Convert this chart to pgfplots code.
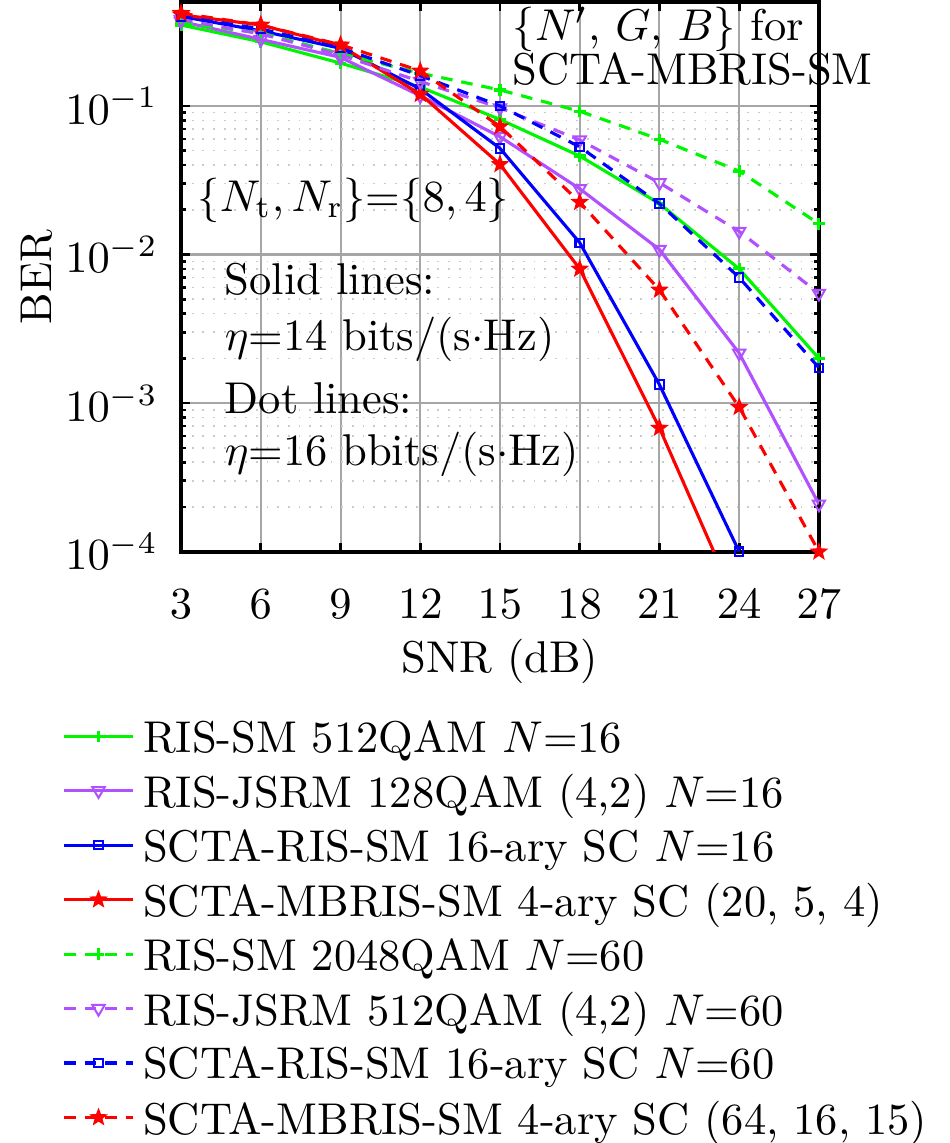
\documentclass[border=0pt]{standalone}
\usepackage{pgfplots}
\pgfplotsset{compat=1.18}
\definecolor{cgreen}{RGB}{0,245,0}
\definecolor{cpurple}{RGB}{176,80,255}
\definecolor{cblue}{RGB}{0,0,255}
\definecolor{cred}{RGB}{255,0,0}
\pgfdeclareplotmark{fstar}{%
  \pgfpathmoveto{\pgfpointpolar{90}{1\pgfplotmarksize}}%
  \pgfpathlineto{\pgfpointpolar{126}{0.42\pgfplotmarksize}}%
  \pgfpathlineto{\pgfpointpolar{162}{1\pgfplotmarksize}}%
  \pgfpathlineto{\pgfpointpolar{198}{0.42\pgfplotmarksize}}%
  \pgfpathlineto{\pgfpointpolar{234}{1\pgfplotmarksize}}%
  \pgfpathlineto{\pgfpointpolar{270}{0.42\pgfplotmarksize}}%
  \pgfpathlineto{\pgfpointpolar{306}{1\pgfplotmarksize}}%
  \pgfpathlineto{\pgfpointpolar{342}{0.42\pgfplotmarksize}}%
  \pgfpathlineto{\pgfpointpolar{18}{1\pgfplotmarksize}}%
  \pgfpathlineto{\pgfpointpolar{54}{0.42\pgfplotmarksize}}%
  \pgfpathclose
  \pgfusepathqfillstroke
}
\begin{document}
\begin{tikzpicture}
\begin{axis}[
  scale only axis,
  width=143.3pt, height=123.5pt,
  ymode=log,
  xmin=3, xmax=27, ymin=1e-4, ymax=0.5,
  xtick={3,6,...,27},
  ytick={1e-4,1e-3,1e-2,1e-1},
  tick align=inside,
  major tick length=2pt, minor tick length=1.1pt,
  every tick/.style={black, line width=0.6pt},
  axis line style={line width=0.9pt},
  grid=both,
  major grid style={gray!70, line width=0.45pt},
  minor x grid style={draw=none},
  minor y grid style={gray!40, dotted, line width=0.35pt},
  xlabel={SNR (dB)}, ylabel={BER},
  label style={font=\normalsize},
  tick label style={font=\normalsize},
  every x tick label/.append style={yshift=-5pt},
  every y tick label/.append style={xshift=-1.7pt},
  xlabel style={yshift=2.3pt},
  ylabel style={inner sep=4.7pt, yshift=-5.27pt},
  clip mode=individual,
  legend style={at={(axis description cs:-0.2064,-0.2907)}, anchor=north west, draw=none, fill=none, font=\normalsize, cells={anchor=west}, row sep=0.9pt, inner ysep=0pt, outer sep=0pt, nodes={inner sep=2pt, text depth=0pt}},
  legend image code/.code={\draw[mark repeat=2,mark phase=2] plot coordinates {(0cm,0cm) (0.27cm,0cm) (0.54cm,0cm)};},
  every axis plot/.append style={line width=0.7pt},
]
\addplot[cgreen, mark=+, mark size=1.3pt] coordinates {(3,0.35) (6,0.27) (9,0.194) (12,0.134) (15,0.081) (18,0.046) (21,0.022) (24,0.0080) (27,0.0020)};
\addlegendentry{RIS-SM 512QAM $N$=16}
\addplot[cpurple, mark=triangle, mark options={rotate=180, solid, fill=white, line width=0.45pt}, mark size=1.6pt] coordinates {(3,0.37) (6,0.28) (9,0.212) (12,0.117) (15,0.062) (18,0.0277) (21,0.0108) (24,0.00217) (27,0.000209)};
\addlegendentry{RIS-JSRM 128QAM (4,2) $N$=16}
\addplot[cblue, mark=square, mark options={solid, fill=white, line width=0.45pt}, mark size=0.95pt] coordinates {(3,0.40) (6,0.32) (9,0.244) (12,0.13) (15,0.0518) (18,0.012) (21,0.00133) (24,0.0001)};
\addlegendentry{SCTA-RIS-SM 16-ary SC $N$=16}
\addplot[cred, mark=fstar, mark options={solid, fill=cred, line width=0.3pt}, mark size=1.8pt] coordinates {(3,0.41) (6,0.35) (9,0.254) (12,0.12) (15,0.0404) (18,0.008) (21,0.00068)};
\addlegendentry{SCTA-MBRIS-SM 4-ary SC (20, 5, 4)}
\addplot[cgreen, dash pattern=on 2.6pt off 2pt, mark=+, mark options={solid}, mark size=1.3pt] coordinates {(3,0.36) (6,0.31) (9,0.225) (12,0.166) (15,0.128) (18,0.092) (21,0.0596) (24,0.0364) (27,0.0161)};
\addlegendentry{RIS-SM 2048QAM $N$=60}
\addplot[cpurple, dash pattern=on 2.6pt off 2pt, mark=triangle, mark options={rotate=180, solid, fill=white, line width=0.45pt}, mark size=1.6pt] coordinates {(3,0.38) (6,0.305) (9,0.22) (12,0.146) (15,0.097) (18,0.059) (21,0.0304) (24,0.0143) (27,0.00548)};
\addlegendentry{RIS-JSRM 512QAM (4,2) $N$=60}
\addplot[cblue, dash pattern=on 2.6pt off 2pt, mark=square, mark options={solid, fill=white, line width=0.45pt}, mark size=0.95pt] coordinates {(3,0.40) (6,0.33) (9,0.245) (12,0.16) (15,0.100) (18,0.053) (21,0.022) (24,0.0070) (27,0.00173)};
\addlegendentry{SCTA-RIS-SM 16-ary SC $N$=60}
\addplot[cred, dash pattern=on 2.6pt off 2pt, mark=fstar, mark options={solid, fill=cred, line width=0.3pt}, mark size=1.8pt] coordinates {(3,0.42) (6,0.35) (9,0.258) (12,0.172) (15,0.0726) (18,0.0225) (21,0.00578) (24,0.00094) (27,0.0001)};
\addlegendentry{SCTA-MBRIS-SM 4-ary SC (64, 16, 15)}
\addplot[cred, no marks, forget plot] coordinates {(21,0.00068) (24,4.1e-5)};
\node[anchor=base west, inner sep=0pt] at (axis cs:15.45,0.2735) {$\{N'$, $G$, $B\}$ for};
\node[anchor=base west, inner sep=0pt] at (axis cs:15.45,0.1403) {SCTA-MBRIS-SM};
\node[anchor=base west, inner sep=0pt] at (axis cs:3.59,0.01954) {$\{N_\mathrm{t}, N_\mathrm{r}\}$=$\{8, 4\}$};
\node[anchor=base west, inner sep=0pt] at (axis cs:4.61,0.005345) {Solid lines:};
\node[anchor=base west, inner sep=0pt] at (axis cs:4.61,0.00227) {$\eta$=14 bits/(s$\cdot$Hz)};
\node[anchor=base west, inner sep=0pt] at (axis cs:4.61,0.000851) {Dot lines:};
\node[anchor=base west, inner sep=0pt] at (axis cs:4.61,0.000379) {$\eta$=16 bbits/(s$\cdot$Hz)};
\end{axis}
\end{tikzpicture}
\end{document}
